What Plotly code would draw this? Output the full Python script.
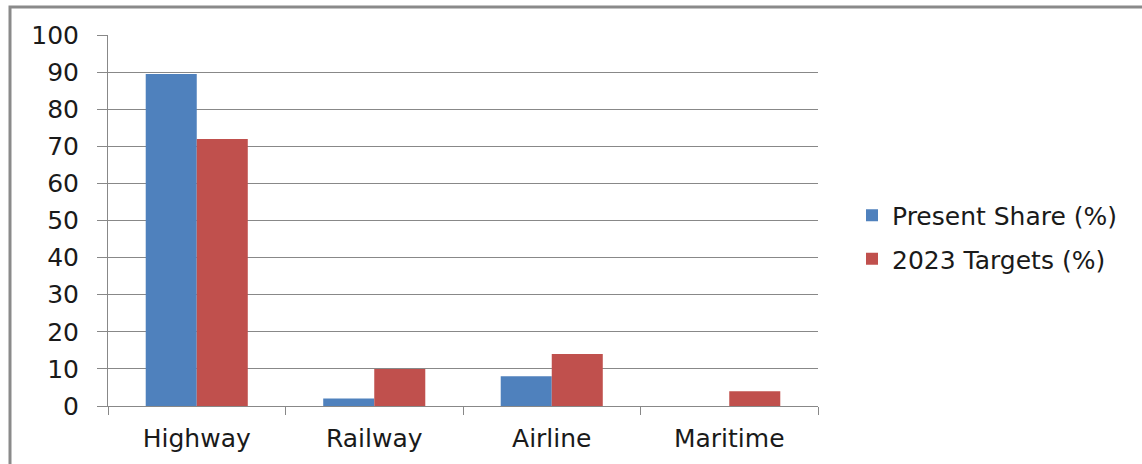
import plotly.graph_objects as go

categories = ["Highway", "Railway", "Airline", "Maritime"]
present_share = [89.5, 2, 8, 0]
targets_2023 = [72, 10, 14, 4]
series_names = ["Present Share (%)", "2023 Targets (%)"]
y_ticks = [0, 10, 20, 30, 40, 50, 60, 70, 80, 90, 100]

W, H = 1142, 464
L, R, T, B = 108, 818, 35, 406
pw, ph = R - L, B - T

fig = go.Figure()
fig.add_trace(go.Bar(x=categories, y=present_share, name=series_names[0],
                     marker=dict(color="#4F81BD", line=dict(width=0)), legendgroup="a"))
fig.add_trace(go.Bar(x=categories, y=targets_2023, name=series_names[1],
                     marker=dict(color="#C0504D", line=dict(width=0)), legendgroup="b"))

font_family = "DejaVu Sans, sans-serif"
fs = 25

fig.update_layout(
    width=W, height=H,
    margin=dict(l=L, r=W - R, t=T, b=H - B),
    paper_bgcolor="white", plot_bgcolor="white",
    barmode="group", bargap=0.425, bargroupgap=0,
    font=dict(family=font_family, size=fs, color="#1a1a1a"),
    showlegend=True,
    legend=dict(x=(852 - L) / pw, y=(B - 237) / ph, xanchor="left", yanchor="middle",
                font=dict(size=fs, color="#1a1a1a"), tracegroupgap=8,
                traceorder="grouped", itemwidth=30, bgcolor="rgba(0,0,0,0)"),
    xaxis=dict(showgrid=False, showline=True, linecolor="#888888", linewidth=1,
               ticks="outside", tickson="boundaries", ticklen=8, tickcolor="#888888",
               tickfont=dict(size=fs, color="#1a1a1a"), ticklabelstandoff=10),
    yaxis=dict(range=[0, 100], tickvals=y_ticks, showgrid=True, gridcolor="#888888",
               gridwidth=1, showline=True, linecolor="#888888", linewidth=1,
               ticks="outside", ticklen=10, tickcolor="#888888",
               tickfont=dict(size=fs, color="#1a1a1a"), zeroline=False,
               ticklabelstandoff=13),
    shapes=[dict(type="rect", xref="paper", yref="paper",
                 x0=(10 - L) / pw, x1=(W + 20 - L) / pw,
                 y0=(B - (H + 20)) / ph, y1=(B - 7) / ph,
                 line=dict(color="#8a8a8a", width=3), fillcolor="rgba(0,0,0,0)",
                 layer="below")],
)

fig.write_html("out.html")
